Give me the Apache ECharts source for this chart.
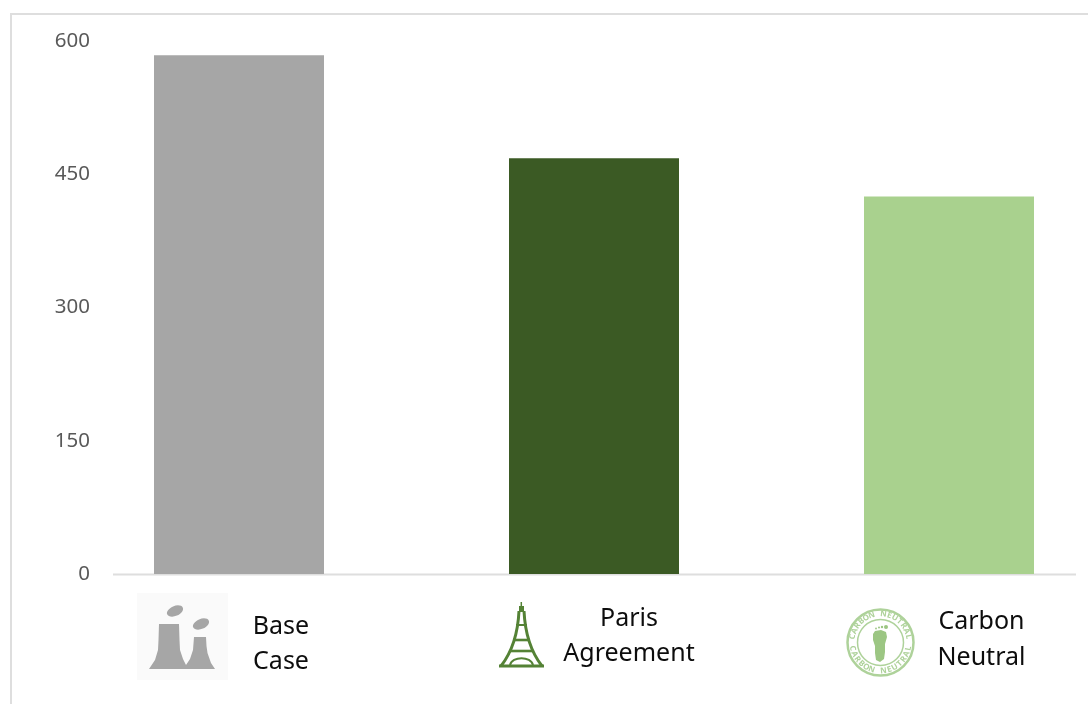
<!DOCTYPE html>
<html><head><meta charset="utf-8">
<style>html,body{margin:0;padding:0;background:#fff}#c{width:1088px;height:704px}</style>
<script src="https://cdn.jsdelivr.net/npm/echarts@6/dist/echarts.min.js"></script></head>
<body><div id="c"></div>
<script>
const categories = ['Base\nCase', 'Paris\nAgreement', 'Carbon\nNeutral'];
const values = [584, 468, 425];
const barColors = ['#a6a6a6', '#3b5a24', '#a9d18e'];
const yTicks = [0, 150, 300, 450, 600];
const stampWords = 'CARBON NEUTRAL';

const labelShift = [84, 70, 65];
const firstLine = [41.5, 33.5, 36.5];
const secondLine = [35, 35, 36];
const labelFont = {fontSize: 25, color: '#0d0d0d', fontFamily: 'Noto Sans', verticalAlign: 'bottom'};
const rich = {};
categories.forEach((c, i) => {
  rich['t' + i] = Object.assign({padding: [0, 0, 0, labelShift[i]], lineHeight: firstLine[i]}, labelFont);
  rich['b' + i] = Object.assign({padding: [0, 0, 0, labelShift[i]], lineHeight: secondLine[i]}, labelFont);
});

const green = '#548235';
const stampC = [880.5, 642.5];
const stampFill = '#aed29a';
function stampText() {
  const out = [];
  const n = stampWords.length, step = 0.21, R = 28.5;
  const st = {fontSize: 8, fontWeight: 'bold', fill: stampFill, align: 'center', verticalAlign: 'middle', fontFamily: 'Noto Sans'};
  for (let k = 0; k < n; k++) {
    const a = (k - (n - 1) / 2) * step;
    out.push({type: 'text', x: stampC[0] + R * Math.sin(a), y: stampC[1] - R * Math.cos(a), rotation: -a, silent: true,
      style: Object.assign({text: stampWords[k]}, st)});
    out.push({type: 'text', x: stampC[0] + R * Math.sin(a), y: stampC[1] + R * Math.cos(a), rotation: a, silent: true,
      style: Object.assign({text: stampWords[k]}, st)});
  }
  return out;
}
function curve(x1, y1, cx1, cy1, cx2, cy2, x2, y2, w, c) {
  return {type: 'bezierCurve', shape: {x1, y1, cpx1: cx1, cpy1: cy1, cpx2: cx2, cpy2: cy2, x2, y2}, style: {fill: 'none', stroke: c, lineWidth: w}};
}
function poly(points, c) {
  return {type: 'polygon', shape: {points}, style: {fill: c}};
}
const footFill = '#9cc683';
const decor = [
  {type: 'line', shape: {x1: 10, y1: 14, x2: 1088, y2: 14}, style: {stroke: '#dedede', lineWidth: 2}},
  {type: 'line', shape: {x1: 11, y1: 13, x2: 11, y2: 704}, style: {stroke: '#dedede', lineWidth: 2}},
  {type: 'line', shape: {x1: 113, y1: 574.5, x2: 1076, y2: 574.5}, style: {stroke: '#dedede', lineWidth: 2}},
  {type: 'rect', shape: {x: 137, y: 593, width: 91, height: 87}, style: {fill: '#fafafa'}},
  poly([[159,624],[179,624],[179.5,640],[180,650],[183,659],[186,665],[190,659],[193,650],[194,637],[206,637],[206.5,646],[207.5,653],[211,663],[215,669],[149,669],[155,660],[158,650],[158.5,640]], '#a6a6a6'),
  {type: 'ellipse', shape: {cx: 175, cy: 611, rx: 8.5, ry: 5}, rotation: 0.4, originX: 175, originY: 611, style: {fill: '#a6a6a6'}},
  {type: 'ellipse', shape: {cx: 201, cy: 624, rx: 8.5, ry: 5}, rotation: 0.4, originX: 201, originY: 624, style: {fill: '#a6a6a6'}},
  {type: 'line', shape: {x1: 521.3, y1: 602, x2: 521.3, y2: 612}, style: {stroke: green, lineWidth: 1.5}},
  {type: 'rect', shape: {x: 519, y: 606, width: 5, height: 6}, style: {fill: green}},
  curve(519, 611, 518, 632, 512, 652, 501, 666, 3, green),
  curve(524, 611, 525, 632, 531, 652, 542, 666, 3, green),
  {type: 'line', shape: {x1: 499, y1: 666, x2: 544, y2: 666}, style: {stroke: green, lineWidth: 3}},
  {type: 'line', shape: {x1: 516, y1: 625, x2: 527, y2: 625}, style: {stroke: green, lineWidth: 2}},
  {type: 'line', shape: {x1: 513, y1: 640, x2: 530, y2: 640}, style: {stroke: green, lineWidth: 2.6}},
  {type: 'line', shape: {x1: 510, y1: 651, x2: 533, y2: 651}, style: {stroke: green, lineWidth: 2.6}},
  curve(510, 665, 512, 656, 531, 656, 533, 665, 2, green),
  {type: 'circle', shape: {cx: stampC[0], cy: stampC[1], r: 33}, style: {fill: 'none', stroke: stampFill, lineWidth: 2.5}},
  {type: 'circle', shape: {cx: stampC[0], cy: stampC[1], r: 23}, style: {fill: 'none', stroke: stampFill, lineWidth: 1.5}},
  poly([[873,634],[875,631],[881,630],[886,632],[887,637],[885,644],[885,652],[884,659],[880,662],[876,660],[875,653],[875,646],[873,640]], footFill),
  {type: 'circle', shape: {cx: 886, cy: 627, r: 2}, style: {fill: footFill}},
  {type: 'circle', shape: {cx: 882, cy: 627, r: 1.2}, style: {fill: footFill}},
  {type: 'circle', shape: {cx: 879, cy: 627.5, r: 1}, style: {fill: footFill}},
  {type: 'circle', shape: {cx: 876, cy: 628.5, r: 0.9}, style: {fill: footFill}},
  ...stampText()
];

const chart = echarts.init(document.getElementById('c'));
chart.setOption({
  animation: false,
  backgroundColor: '#fff',
  grid: {left: 239, top: 41, width: 710, height: 533},
  xAxis: {
    type: 'category', data: categories, boundaryGap: false,
    axisLine: {show: false}, axisTick: {show: false},
    axisLabel: {
      margin: 24, interval: 0,
      formatter: (v, i) => { const p = v.split('\n'); return '{t' + i + '|' + p[0] + '}\n{b' + i + '|' + p[1] + '}'; },
      rich
    }
  },
  yAxis: {
    type: 'value', min: yTicks[0], max: yTicks[yTicks.length - 1], interval: yTicks[1] - yTicks[0],
    splitLine: {show: false}, axisLine: {show: false}, axisTick: {show: false},
    axisLabel: {margin: 149, fontSize: 20.5, color: '#595959', fontFamily: 'Noto Sans', padding: [4, 0, 0, 0]}
  },
  series: [{
    type: 'bar', barWidth: 170, clip: false,
    data: values.map((v, i) => ({value: v, itemStyle: {color: barColors[i]}}))
  }],
  graphic: decor
});
</script></body></html>
